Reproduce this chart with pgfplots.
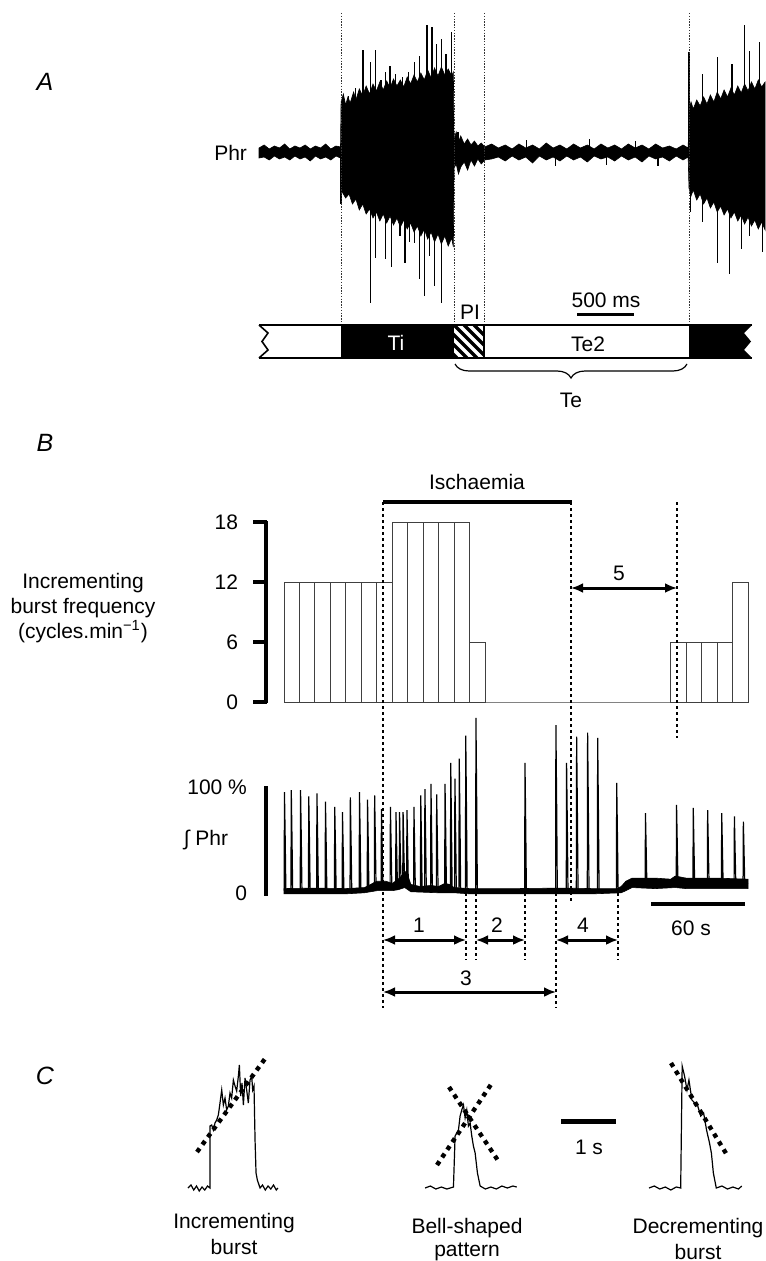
\documentclass[border=0pt]{standalone}
\usepackage{fontspec}
\setmainfont{Liberation Sans}
\setsansfont{Liberation Sans}
\usepackage{pgfplots}
\pgfplotsset{compat=1.18}
\usetikzlibrary{arrows.meta,decorations.pathreplacing}

\newcommand\fs{\fontsize{10.5}{12.5}\selectfont}
\newcommand\fl{\fontsize{12.5}{14}\selectfont\itshape}
\pgfplotsset{panel/.style={scale only axis, hide axis, clip=false, anchor=south west}}
\tikzset{
  dl/.style={line width=1.4pt, dash pattern=on 1.4pt off 1.6pt},
  dc/.style={line width=2.2pt, dash pattern=on 2.2pt off 2.4pt},
  da/.style={line width=1.5pt, {Latex[length=6pt,width=5pt]}-{Latex[length=6pt,width=5pt]}},
}

\begin{document}
\begin{tikzpicture}
% ---------- A: raw phrenic (t in s, amplitude in a.u.)
\begin{axis}[panel, at={(129.5pt,-156pt)}, width=253pt, height=155pt,
  xmin=0, xmax=4.439, ymin=-160, ymax=150]
\addplot[fill=black, draw=black, line width=0.3pt] coordinates {
 (0,4)(0.045,7)(0.09,3)(0.135,6)(0.18,4)(0.225,8)(0.27,3)(0.315,6)(0.36,4)(0.405,7)(0.45,3)(0.495,6)(0.54,4)(0.585,8)(0.63,3)(0.675,6)(0.715,5)
 (0.72,50)(0.74,58)(0.76,47)(0.78,55)(0.80,49)(0.83,60)(0.85,52)(0.88,63)(0.91,56)(0.94,66)(0.97,58)(1.0,68)(1.03,61)(1.06,70)(1.09,62)
 (1.12,71)(1.15,64)(1.18,73)(1.21,66)(1.24,72)(1.27,65)(1.30,75)(1.33,68)(1.36,77)(1.39,70)(1.42,79)(1.45,72)(1.48,82)(1.51,74)(1.54,84)
 (1.57,76)(1.60,85)(1.63,77)(1.66,83)(1.69,76)(1.705,80)
 (1.711,12)(1.73,20)(1.75,10)(1.77,16)(1.8,8)(1.83,13)(1.86,7)(1.89,11)(1.92,6)(1.95,9)(1.98,5)
 (2.04,8)(2.1,4)(2.16,7)(2.22,3)(2.28,8)(2.34,4)(2.4,7)(2.46,3)(2.52,9)(2.58,4)(2.64,7)(2.7,3)(2.76,8)(2.82,4)(2.88,7)(2.94,3)
 (3.0,8)(3.06,4)(3.12,7)(3.18,3)(3.24,8)(3.3,4)(3.36,7)(3.42,3)(3.48,8)(3.54,4)(3.6,6)(3.66,3)(3.72,7)(3.765,4)
 (3.772,42)(3.79,50)(3.81,43)(3.84,52)(3.87,46)(3.9,55)(3.93,48)(3.96,57)(3.99,50)(4.02,60)(4.05,53)(4.08,62)(4.11,55)(4.14,64)
 (4.17,57)(4.2,66)(4.23,59)(4.26,68)(4.29,61)(4.32,70)(4.35,63)(4.38,72)(4.41,65)(4.44,70)
 (4.44,-78)(4.41,-70)(4.38,-77)(4.35,-68)(4.32,-74)(4.29,-65)(4.26,-72)(4.23,-63)(4.2,-69)(4.17,-60)(4.14,-66)(4.11,-57)(4.08,-63)
 (4.05,-54)(4.02,-60)(3.99,-50)(3.96,-56)(3.93,-46)(3.9,-52)(3.87,-42)(3.84,-48)(3.81,-38)(3.79,-44)(3.772,-36)
 (3.765,-5)(3.72,-8)(3.66,-4)(3.6,-9)(3.54,-5)(3.48,-7)(3.42,-4)(3.36,-10)(3.3,-5)(3.24,-8)(3.18,-4)(3.12,-9)(3.06,-5)(3.0,-7)
 (2.94,-4)(2.88,-10)(2.82,-5)(2.76,-8)(2.7,-4)(2.64,-9)(2.58,-5)(2.52,-8)(2.46,-4)(2.4,-11)(2.34,-5)(2.28,-8)(2.22,-4)(2.16,-9)(2.1,-5)(2.04,-7)
 (1.98,-8)(1.95,-12)(1.92,-7)(1.89,-14)(1.86,-8)(1.83,-18)(1.8,-10)(1.77,-15)(1.75,-22)(1.73,-12)(1.711,-16)
 (1.705,-95)(1.69,-86)(1.66,-94)(1.63,-84)(1.60,-92)(1.57,-82)(1.54,-90)(1.51,-80)(1.48,-87)(1.45,-77)(1.42,-84)(1.39,-74)(1.36,-80)
 (1.33,-71)(1.30,-77)(1.27,-68)(1.24,-75)(1.21,-66)(1.18,-73)(1.15,-64)(1.12,-71)(1.09,-62)(1.06,-69)(1.03,-60)(1.0,-66)(0.97,-57)
 (0.94,-62)(0.91,-52)(0.88,-58)(0.85,-47)(0.82,-52)(0.79,-42)(0.76,-46)(0.72,-38)
 (0.715,-6)(0.675,-4)(0.63,-8)(0.585,-5)(0.54,-7)(0.495,-4)(0.45,-9)(0.405,-5)(0.36,-7)(0.315,-4)(0.27,-8)(0.225,-5)(0.18,-7)(0.135,-4)(0.09,-8)(0.045,-5)(0,-6)
} -- cycle;
\addplot[ycomb, line width=0.6pt, black] coordinates {
 (0.784,56)(0.85,64)(0.913,102)(0.978,90)(1.021,102)(1.07,72)(1.107,80)(1.150,86)(1.2,78)(1.258,75)(1.31,80)(1.366,90)(1.409,96)
 (1.474,127)(1.517,125)(1.560,108)(1.603,113)(1.64,98)(1.689,120)
 (1.745,20)(2.35,12)(2.9,13)(3.3,11)
 (3.772,100)(3.892,78)(4.021,95)(4.149,88)(4.257,127)(4.300,101)(4.39,110)
 (0.719,-52)(0.978,-151)(1.02,-106)(1.107,-107)(1.16,-115)(1.237,-84)(1.28,-111)(1.323,-90)(1.366,-91)
 (1.409,-127)(1.452,-144)(1.495,-104)(1.538,-134)(1.603,-151)(1.667,-90)(1.75,-20)
 (2.6,-14)(3.05,-13)(3.5,-14)
 (3.785,-60)(3.892,-70)(4.021,-111)(4.128,-122)(4.235,-97)(4.300,-84)(4.42,-100)
};
\end{axis}

% ---------- B top: incrementing burst frequency (cycles/min) in 10 s bins
\begin{axis}[panel, at={(142pt,-351pt)}, width=232pt, height=90pt,
  xmin=0, xmax=300, ymin=0, ymax=18]
\addplot[ybar interval, draw=black!75, fill=white, line width=0.5pt] coordinates {
 (0,12)(10,12)(20,12)(30,12)(40,12)(50,12)(60,12)
 (70,18)(80,18)(90,18)(100,18)(110,18)
 (120,6)
 (130,0)(140,0)(150,0)(160,0)(170,0)(180,0)(190,0)(200,0)(210,0)(220,0)(230,0)(240,0)
 (250,6)(260,6)(270,6)(280,6)
 (290,12)(300,12)
};
\end{axis}

% ---------- B bottom: integrated phrenic (% of control)
\begin{axis}[panel, at={(142pt,-451.1pt)}, width=232pt, height=94.25pt,
  xmin=0, xmax=300, ymin=-10, ymax=170]
\addplot[fill=black, draw=black, line width=0.3pt] coordinates {
 (0,3)(20,3.5)(40,3)(52,4)(56,7)(60,10)(66,10)(70,8)(73,11)(76,15)(78,20)(80,16)(82,7)(88,5)(95,6)(100,5)(104,8)(107,7)(110,4)
 (120,3)(150,3)(180,3.5)(200,3)(215,3)(218,5)(221,10)(225,13)(240,13)(250,12)(253,15)(260,13)(280,13)(300,12)
 (300,3)(280,3)(260,3)(253,4)(240,3)(225,4)(221,1)(218,-1)(200,-2)(150,-2)(120,-2)(110,-1)(100,-1)(82,0)(78,4)(74,2)(70,1)(60,1)(52,-1)(40,-2)(20,-2)(0,-2)
} -- cycle;
\addplot[black, line width=0.6pt] coordinates {
 (0,1)(0.1,1)(0.3,95)(0.8,48)(1.2,1)
 (4.5,1)(4.7,97)(5.2,48)(5.6,1)
 (10.5,1)(10.7,97)(11.2,48)(11.6,1)
 (15.8,1)(16.0,91)(16.5,45)(16.9,1)
 (21.1,1)(21.3,94)(21.8,47)(22.2,1)
 (26.6,1)(26.8,86)(27.3,43)(27.7,1)
 (32.6,1)(32.8,81)(33.3,40)(33.7,1)
 (37.6,1)(37.8,76)(38.3,38)(38.7,1)
 (42.7,1)(42.9,90)(43.4,45)(43.8,1)
 (48.6,1)(48.8,95)(49.3,48)(49.7,1)
 (53.8,1)(54.0,88)(54.5,44)(54.9,1)
 (58.4,4)(58.6,92)(59.1,46)(59.5,5)
 (62.8,6)(63.0,79)(63.5,40)(63.9,6)
 (68.6,6)(68.8,81)(69.3,40)(69.7,6)
 (72.2,7)(72.4,76)(72.9,38)(73.3,8)
 (74.5,10)(74.7,76)(75.2,38)(75.6,14)
 (76.8,16)(77.0,76)(77.5,38)(77.9,14)
 (79.3,12)(79.5,78)(80.0,39)(80.4,6)
 (83.8,3)(84.0,81)(84.5,40)(84.9,3)
 (88.2,2)(88.4,92)(88.9,46)(89.3,2)
 (90.9,2)(91.1,98)(91.6,49)(92.0,2)
 (94.8,2)(95.0,103)(95.5,52)(95.9,2)
 (98.5,2)(98.7,93)(99.2,46)(99.6,2)
 (103.9,4)(104.1,103)(104.6,52)(105.0,4)
 (107.6,3)(107.8,123)(108.3,60)(108.7,2)
 (110.3,2)(110.5,108)(111.0,54)(111.4,2)
 (113.1,1)(113.3,127)(113.8,64)(114.2,1)
 (117.3,1)(117.5,149)(118.0,75)(118.4,1)
 (123.9,1)(124.1,166)(124.6,83)(125.0,1)
 (155.6,1)(155.8,123)(156.3,61)(156.7,1)
 (175.6,1)(175.8,159)(176.3,80)(176.7,1)
 (182.5,1)(182.7,123)(183.2,61)(183.6,1)
 (189.0,1)(189.2,148)(189.7,74)(190.1,1)
 (196.1,1)(196.3,152)(196.8,76)(197.2,1)
 (202.6,1)(202.8,147)(203.3,74)(203.7,1)
 (214.9,1)(215.1,104)(215.6,52)(216.0,1)
 (220,1)(224,8)
 (233.5,8)(233.7,75)(234.2,38)(234.6,8)
 (253.6,9)(253.8,83)(254.3,42)(254.7,9)
 (264.4,8)(264.6,80)(265.1,40)(265.5,8)
 (273.7,8)(273.9,78)(274.4,39)(274.8,8)
 (282.8,8)(283.0,75)(283.5,38)(283.9,8)
 (291.0,8)(291.2,72)(291.7,36)(292.1,8)
 (296.8,8)(297.0,67)(297.5,34)(297.9,8)
 (300,8)
};
\end{axis}

% ---------- C: single bursts (t in s, amplitude in a.u.)
\begin{axis}[panel, at={(90pt,-604pt)}, width=285pt, height=85pt,
  xmin=0, xmax=10.36, ymin=-20, ymax=150]
\addplot[black, line width=0.6pt] coordinates {
 (0.145,0)(0.2,3)(0.25,-2)(0.3,2)(0.35,-3)(0.4,1)(0.45,-2)(0.5,2)(0.545,0)
 (0.545,62)(0.576,63)(0.606,58)(0.636,65)(0.667,68)(0.697,73)(0.727,85)(0.758,98)(0.788,83)(0.818,90)
 (0.848,78)(0.879,82)(0.909,95)(0.939,90)(0.970,108)(1.0,102)(1.030,97)(1.061,112)(1.079,123)(1.103,92)
 (1.127,105)(1.152,83)(1.182,110)(1.212,98)(1.242,85)(1.273,108)(1.303,112)(1.321,98)(1.345,102)
 (1.364,48)(1.382,15)(1.406,8)(1.455,0)(1.5,3)(1.55,-2)(1.6,2)(1.65,-1)(1.7,3)(1.75,-2)(1.78,0)
};
\addplot[black, line width=0.6pt] coordinates {
 (4.455,0)(4.55,2)(4.65,-1)(4.75,1)(4.85,-1)(4.97,1)
 (5.0,52)(5.061,58)(5.091,72)(5.121,78)(5.152,83)(5.182,70)(5.212,78)(5.242,62)(5.273,65)(5.303,52)
 (5.333,42)(5.364,35)(5.406,15)(5.455,2)(5.55,-1)(5.65,1)(5.75,-1)(5.85,2)(5.95,0)(6.05,2)(6.12,1)
};
\addplot[black, line width=0.6pt] coordinates {
 (8.524,0)(8.62,2)(8.72,-1)(8.82,1)(8.92,-2)(9.02,1)(9.1,0)
 (9.127,122)(9.17,112)(9.215,98)(9.25,108)(9.304,88)(9.357,85)(9.41,82)(9.464,72)(9.517,75)(9.57,58)
 (9.624,45)(9.658,35)(9.694,15)(9.747,0)(9.85,2)(9.95,-1)(10.05,1)(10.15,-1)(10.21,2)
};
\end{axis}

% ---------- annotations, in pixel units of the figure
\begin{scope}[x=0.5pt, y=-0.5pt]
\path (0,0) rectangle (765,1261);
% A
\node[font=\fl] at (45,82) {A};
\node[font=\fs, anchor=east] at (254,153) {Phr};
\foreach \xx in {341,454,484,689}
  \draw[black!80, line width=0.4pt, dash pattern=on 0.7pt off 0.7pt] (\xx,13) -- (\xx,325);
\fill (341,325) rectangle (454,358);
\fill (689,325) -- (752,325) -- (744,333) -- (751,341.5) -- (744,350) -- (752,358) -- (689,358) -- cycle;
\begin{scope}
  \clip (454,325) rectangle (484,358);
  \foreach \i in {0,...,8} \draw[line width=1.7pt] ({424+\i*10},325) -- ({457+\i*10},358);
\end{scope}
\draw[line width=1pt] (259,325) -- (752,325);
\draw[line width=1pt] (259,358) -- (752,358);
\draw[line width=0.8pt] (259,325) -- (268,333) -- (262,341.5) -- (268,350) -- (259,358);
\draw[line width=0.8pt] (484,325) -- (484,358);
\node[font=\fs, white] at (396,343) {Ti};
\node[font=\fs] at (588,344) {Te2};
\node[font=\fs] at (470,312) {PI};
\draw[line width=1.5pt] (577,315) -- (634,315);
\node[font=\fs] at (606,300) {500 ms};
\draw[line width=0.6pt, decorate, decoration={brace, mirror, amplitude=7pt}] (455,364) -- (687,364);
\node[font=\fs] at (571,400) {Te};
% B
\node[font=\fl] at (45,443) {B};
\node[font=\fs] at (477,482) {Ischaemia};
\draw[line width=2pt] (383,502) -- (572,502);
\node[font=\fs] at (83,583) {Incrementing};
\node[font=\fs] at (83,608) {burst frequency};
\node[font=\fs] at (83,632) {(cycles.min\textsuperscript{\char"2212 1})};
\draw[line width=1.7pt] (266,521) -- (266,703);
\foreach \v/\yy in {0/702,6/642,12/582,18/522} {
  \draw[line width=1.7pt] (253,\yy) -- (267,\yy);
  \node[font=\fs, anchor=east] at (245,\yy) {\v};
}
\draw[line width=1.8pt] (266,786) -- (266,896);
\node[font=\fs, anchor=east] at (254,787) {100 \%};
\node[font=\fs, anchor=east] at (254,893) {0};
\node[font=\fs] at (206,840) {∫ Phr};
\draw[dl] (383,502) -- (383,1008);
\draw[dl] (571,502) -- (571,902);
\draw[dl] (677,502) -- (677,738);
\foreach \xx in {466,476,525,618} \draw[dl] (\xx,893) -- (\xx,960);
\draw[dl] (556,893) -- (556,1008);
\draw[da] (571,588) -- (677,588);
\node[font=\fs] at (619,573) {5};
\draw[da] (383,940) -- (466,940);
\node[font=\fs] at (419,925) {1};
\draw[da] (476,940) -- (525,940);
\node[font=\fs] at (497,925) {2};
\draw[da] (556,940) -- (618,940);
\node[font=\fs] at (583,925) {4};
\draw[da] (383,992) -- (556,992);
\node[font=\fs] at (466,978) {3};
\draw[line width=2pt] (651,904) -- (745,904);
\node[font=\fs] at (691,928) {60 s};
% C
\node[font=\fl] at (45,1076) {C};
\draw[dc] (197,1152) -- (267,1056);
\draw[dc] (437,1165) -- (492,1083);
\draw[dc] (449,1087) -- (499,1162);
\draw[dc] (671,1063) -- (727,1155);
\draw[line width=2.5pt] (561,1121) -- (616,1121);
\node[font=\fs] at (589,1147) {1 s};
\node[font=\fs] at (234,1223) {Incrementing};
\node[font=\fs] at (234,1247) {burst};
\node[font=\fs] at (467,1228) {Bell-shaped};
\node[font=\fs] at (467,1252) {pattern};
\node[font=\fs] at (698,1228) {Decrementing};
\node[font=\fs] at (698,1252) {burst};
\end{scope}
\pgfresetboundingbox
\path (0,0) rectangle (382.5pt,-630.5pt);
\end{tikzpicture}
\end{document}
